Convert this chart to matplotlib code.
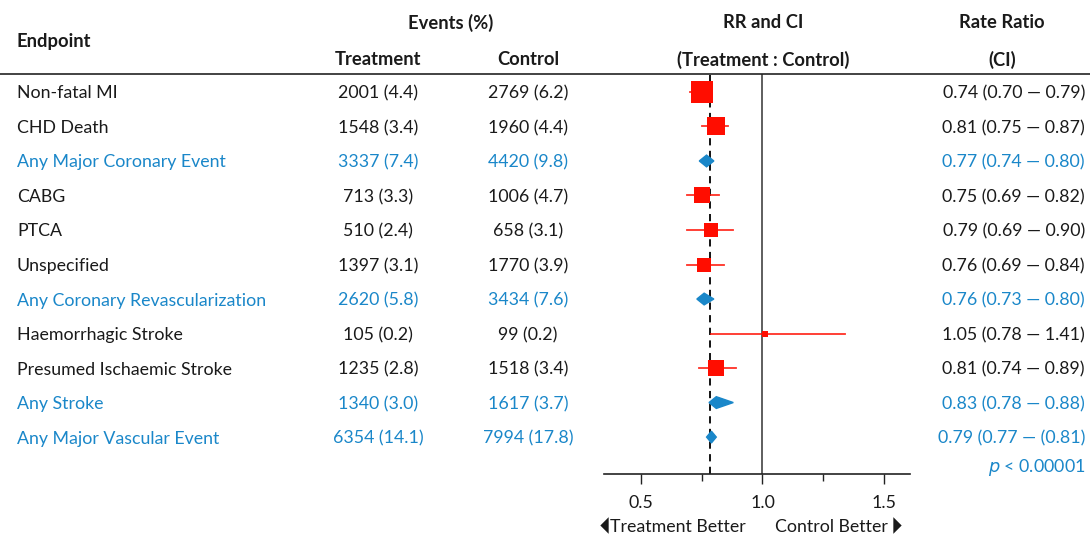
import matplotlib
matplotlib.use("Agg")
import matplotlib.pyplot as plt
from matplotlib.transforms import blended_transform_factory
from matplotlib.patches import Polygon

plt.rcParams['font.family'] = ['Lato', 'DejaVu Sans']

# data
endpoints = ['Non-fatal MI', 'CHD Death', 'Any Major Coronary Event', 'CABG', 'PTCA',
             'Unspecified', 'Any Coronary Revascularization', 'Haemorrhagic Stroke',
             'Presumed Ischaemic Stroke', 'Any Stroke', 'Any Major Vascular Event']
treatment = ['2001 (4.4)', '1548 (3.4)', '3337 (7.4)', '713 (3.3)', '510 (2.4)', '1397 (3.1)',
             '2620 (5.8)', '105 (0.2)', '1235 (2.8)', '1340 (3.0)', '6354 (14.1)']
control = ['2769 (6.2)', '1960 (4.4)', '4420 (9.8)', '1006 (4.7)', '658 (3.1)', '1770 (3.9)',
           '3434 (7.6)', '99 (0.2)', '1518 (3.4)', '1617 (3.7)', '7994 (17.8)']
rr_text = ['0.74 (0.70 \u2014 0.79)', '0.81 (0.75 \u2014 0.87)', '0.77 (0.74 \u2014 0.80)',
           '0.75 (0.69 \u2014 0.82)', '0.79 (0.69 \u2014 0.90)', '0.76 (0.69 \u2014 0.84)',
           '0.76 (0.73 \u2014 0.80)', '1.05 (0.78 \u2014 1.41)', '0.81 (0.74 \u2014 0.89)',
           '0.83 (0.78 \u2014 0.88)', '0.79 (0.77 \u2014 (0.81)']
summary = [False, False, True, False, False, False, True, False, False, True, True]

# positions as drawn in the plot panel
rr = [0.75, 0.81, 0.77, 0.75, 0.79, 0.76, 0.76, 1.01, 0.81, 0.81, 0.79]
lo = [0.70, 0.75, 0.74, 0.69, 0.69, 0.69, 0.73, 0.79, 0.74, 0.78, 0.77]
hi = [0.79, 0.86, 0.80, 0.82, 0.88, 0.84, 0.80, 1.34, 0.89, 0.88, 0.81]
weight = [1.0, 0.82, 0, 0.68, 0.61, 0.61, 0, 0.23, 0.70, 0, 0]
overall = 0.783

RED = '#ff0d00'
BLUE = '#1a87c9'
TXT = '#1a1a1a'
FS = 12.8

W, H = 1090, 536
fig = plt.figure(figsize=(W / 100, H / 100), dpi=100)
ax = fig.add_axes([604 / W, 1 - 474 / H, (910 - 604) / W, (474 - 74) / H])
ax.set_xlim(0.348, 1.607)
ax.set_ylim(11.07, -0.52)

for s in ['top', 'right', 'left']:
    ax.spines[s].set_visible(False)
ax.spines['bottom'].set_color('#222222')
ax.spines['bottom'].set_linewidth(1.2)
ax.set_yticks([])
ax.set_xticks([0.5, 1.0, 1.5])
ax.set_xticklabels(['0.5', '1.0', '1.5'])
ax.set_xticks([0.75, 1.25], minor=True)
ax.tick_params(axis='x', which='major', length=7, width=1, colors='#222222',
               labelsize=FS, labelcolor=TXT, pad=8)
ax.tick_params(axis='x', which='minor', length=5, width=1, colors='#222222')

ax.axvline(1.0, color='#333333', lw=1.1, zorder=1)
ax.axvline(overall, color='black', lw=1.3, ls=(0, (4, 3)), zorder=1)

for i in range(len(endpoints)):
    if summary[i]:
        h = 0.17
        ax.add_patch(Polygon([[lo[i], i], [rr[i], i - h], [hi[i], i], [rr[i], i + h]],
                             closed=True, color=BLUE, zorder=3))
    else:
        ax.plot([lo[i], hi[i]], [i, i], color=RED, lw=1.3, alpha=0.85, zorder=2)
        ax.plot(rr[i], i, marker='s', ms=16.5 * weight[i], color=RED, mec=RED,
                mew=0, zorder=3)

# table columns
tr = blended_transform_factory(fig.transFigure, ax.transData)
for i in range(len(endpoints)):
    c = BLUE if summary[i] else TXT
    kw = dict(transform=tr, va='center_baseline', fontsize=FS, color=c, clip_on=False)
    fig.text(17 / W, i, endpoints[i], ha='left', **kw)
    fig.text(378 / W, i, treatment[i], ha='center', **kw)
    fig.text(528 / W, i, control[i], ha='center', **kw)
    fig.text(1085 / W, i, rr_text[i], ha='right', **kw)

fig.text(1085 / W, 1 - 465 / H, '$p$ < 0.00001', ha='right', va='center_baseline',
         fontsize=FS, color=BLUE)

# headers
hk = dict(fontsize=13.2, fontweight='bold', color=TXT, va='center_baseline')
fig.text(17 / W, 1 - 40 / H, 'Endpoint', ha='left', **hk)
fig.text(451 / W, 1 - 21 / H, 'Events (%)', ha='center', **hk)
fig.text(378 / W, 1 - 58 / H, 'Treatment', ha='center', **hk)
fig.text(528 / W, 1 - 58 / H, 'Control', ha='center', **hk)
fig.text(763 / W, 1 - 21 / H, 'RR and CI', ha='center', **hk)
fig.text(763 / W, 1 - 58 / H, '(Treatment : Control)', ha='center', **hk)
fig.text(1002 / W, 1 - 21 / H, 'Rate Ratio', ha='center', **hk)
fig.text(1002 / W, 1 - 58 / H, '(CI)', ha='center', **hk)

fig.add_artist(plt.Line2D([0, 1], [1 - 74 / H, 1 - 74 / H], color='#222222', lw=1.2))

# direction labels with slim triangles
yl = 1 - 525 / H
left_tri = [(-0.5, 0), (0.5, 1), (0.5, -1), (-0.5, 0)]
right_tri = [(0.5, 0), (-0.5, 1), (-0.5, -1), (0.5, 0)]
fig.add_artist(plt.Line2D([603.5 / W], [yl], marker=left_tri, ms=12, color=TXT, mew=0))
fig.add_artist(plt.Line2D([896.5 / W], [yl], marker=right_tri, ms=12, color=TXT, mew=0))
fig.text(610 / W, yl, 'Treatment Better', ha='left', va='center_baseline',
         fontsize=FS, color=TXT)
fig.text(888 / W, yl, 'Control Better', ha='right', va='center_baseline',
         fontsize=FS, color=TXT)

fig.savefig('out.png', dpi=100)
